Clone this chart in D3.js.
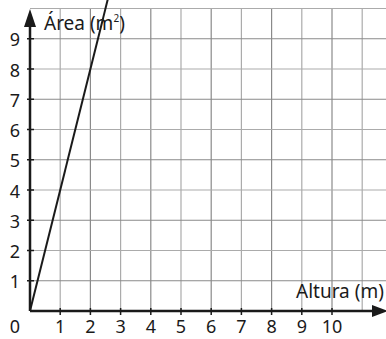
<!DOCTYPE html>
<html>
<head>
<meta charset="utf-8">
<script src="https://cdn.jsdelivr.net/npm/d3@7"></script>
<style>
  body { margin: 0; background: #fff; }
  text { font-family: "Noto Sans", sans-serif; fill: #1a1a1a; }
</style>
</head>
<body>
<script>
let xTicks = [1, 2, 3, 4, 5, 6, 7, 8, 9, 10];
let yTicks = [1, 2, 3, 4, 5, 6, 7, 8, 9];
let lineAltura = [0, 2.6];
let lineArea = [0, 10.4];

let width = 386,
  height = 339;

let x = d3.scaleLinear().domain([0, 10]).range([30, 332]);
let y = d3.scaleLinear().domain([0, 10]).range([311, 8.5]);

let svg = d3.select("body").append("svg")
  .attr("width", width)
  .attr("height", height);

// grid
let gridX = d3.range(1, 12);
let gridY = d3.range(1, 11);
svg.append("g").selectAll("line").data(gridX).enter().append("line")
  .attr("x1", d => x(d)).attr("x2", d => x(d))
  .attr("y1", y(0)).attr("y2", y(10))
  .attr("stroke", (d, i) => i % 2 ? "#8a8a8a" : "#ababab")
  .attr("stroke-width", 1.2);
svg.append("g").selectAll("line").data(gridY).enter().append("line")
  .attr("x1", x(0)).attr("x2", width)
  .attr("y1", d => y(d)).attr("y2", d => y(d))
  .attr("stroke", (d, i) => i % 2 ? "#ababab" : "#8a8a8a")
  .attr("stroke-width", 1.2);

// axes
svg.append("line")
  .attr("x1", x(0)).attr("x2", 378)
  .attr("y1", y(0)).attr("y2", y(0))
  .attr("stroke", "#1a1a1a").attr("stroke-width", 2.5);
svg.append("line")
  .attr("x1", x(0)).attr("x2", x(0))
  .attr("y1", y(0)).attr("y2", 20)
  .attr("stroke", "#1a1a1a").attr("stroke-width", 2.5);

// arrow heads
svg.append("path")
  .attr("d", `M${x(0)},9 L${x(0) - 6},27 L${x(0) + 6},27 Z`)
  .attr("fill", "#1a1a1a");
svg.append("path")
  .attr("d", `M388,${y(0)} L372,${y(0) - 6} L372,${y(0) + 6} Z`)
  .attr("fill", "#1a1a1a");

// ticks
svg.append("g").selectAll("line").data(xTicks).enter().append("line")
  .attr("x1", d => x(d)).attr("x2", d => x(d))
  .attr("y1", y(0) - 3).attr("y2", y(0) + 4)
  .attr("stroke", "#1a1a1a").attr("stroke-width", 1.5);
svg.append("g").selectAll("line").data(yTicks).enter().append("line")
  .attr("x1", x(0) - 3).attr("x2", x(0) + 4)
  .attr("y1", d => y(d)).attr("y2", d => y(d))
  .attr("stroke", "#1a1a1a").attr("stroke-width", 1.5);

// tick labels
svg.append("g").selectAll("text").data(xTicks).enter().append("text")
  .attr("x", d => x(d)).attr("y", 333)
  .attr("text-anchor", "middle")
  .attr("font-size", 18)
  .text(d => d);
svg.append("g").selectAll("text").data(yTicks).enter().append("text")
  .attr("x", 20).attr("y", d => y(d) + 7.5)
  .attr("text-anchor", "end")
  .attr("font-size", 18)
  .text(d => d);
svg.append("text")
  .attr("x", 15).attr("y", 333)
  .attr("text-anchor", "middle")
  .attr("font-size", 18)
  .text("0");

// axis titles
let ty = svg.append("text").attr("x", 44).attr("y", 30).attr("font-size", 19);
ty.append("tspan").text("Área (m");
ty.append("tspan").attr("font-size", 10).attr("dy", -8).text("2");
ty.append("tspan").attr("dy", 8).text(")");
svg.append("text")
  .attr("x", 296).attr("y", 298)
  .attr("font-size", 19)
  .text("Altura (m)");

// line
let pts = d3.zip(lineAltura, lineArea);
svg.append("path")
  .datum(pts)
  .attr("d", d3.line().x(d => x(d[0])).y(d => y(d[1])))
  .attr("fill", "none")
  .attr("stroke", "#1a1a1a")
  .attr("stroke-width", 2);
</script>
</body>
</html>
